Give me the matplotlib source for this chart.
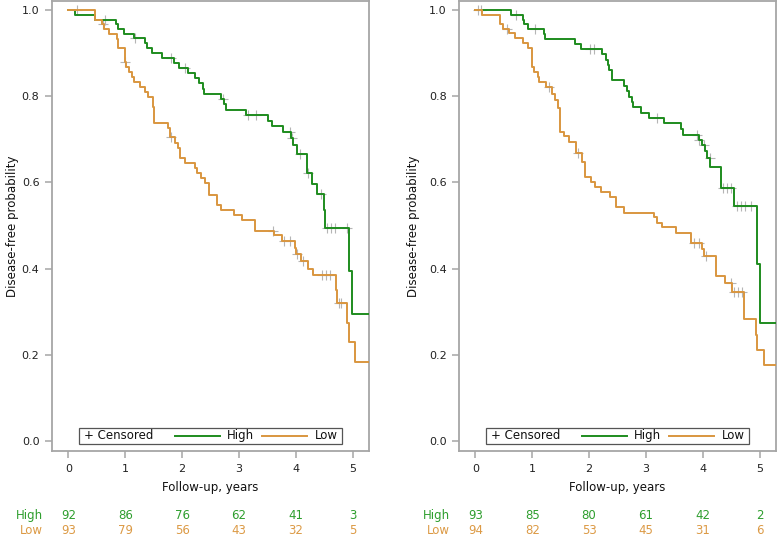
import numpy as np
import matplotlib
matplotlib.use("Agg")
import matplotlib.pyplot as plt
from matplotlib.patches import Rectangle
from matplotlib.lines import Line2D

# step-function data (time in years, survival after step)
left_high_t = [0.12, 0.46, 0.84, 0.88, 0.97, 1.16, 1.35, 1.38, 1.47, 1.64,
               1.85, 1.94, 2.11, 2.22, 2.30, 2.36, 2.39, 2.68, 2.74, 2.77,
               3.13, 3.52, 3.58, 3.77, 3.92, 3.95, 4.02, 4.20, 4.29, 4.38,
               4.50, 4.52, 4.94, 4.99]
left_high_s = [0.989, 0.978, 0.967, 0.956, 0.945, 0.934, 0.923, 0.912, 0.900, 0.889,
               0.877, 0.866, 0.855, 0.843, 0.831, 0.818, 0.806, 0.793, 0.781, 0.769,
               0.756, 0.743, 0.731, 0.718, 0.703, 0.687, 0.667, 0.621, 0.597, 0.574,
               0.535, 0.495, 0.395, 0.296]
left_low_t = [0.46, 0.59, 0.62, 0.71, 0.85, 0.88, 0.99, 1.01, 1.06, 1.11,
              1.16, 1.26, 1.34, 1.40, 1.48, 1.50, 1.75, 1.78, 1.88, 1.92,
              1.96, 2.05, 2.22, 2.27, 2.33, 2.40, 2.47, 2.61, 2.69, 2.91,
              3.05, 3.29, 3.61, 3.76, 3.98, 4.00, 4.10, 4.22, 4.30, 4.71,
              4.73, 4.91, 4.93, 5.05]
left_low_s = [0.978, 0.967, 0.956, 0.945, 0.933, 0.911, 0.880, 0.868, 0.857, 0.845,
              0.834, 0.822, 0.810, 0.799, 0.776, 0.739, 0.727, 0.705, 0.692, 0.679,
              0.657, 0.646, 0.634, 0.621, 0.610, 0.598, 0.572, 0.548, 0.536, 0.524,
              0.513, 0.488, 0.477, 0.464, 0.447, 0.434, 0.417, 0.400, 0.385, 0.351,
              0.321, 0.274, 0.229, 0.183]
right_high_t = [0.62, 0.84, 0.86, 0.93, 1.20, 1.22, 1.75, 1.86, 2.23, 2.30,
                2.33, 2.35, 2.40, 2.62, 2.67, 2.71, 2.76, 2.78, 2.92, 3.06,
                3.31, 3.61, 3.65, 3.93, 3.98, 4.04, 4.07, 4.13, 4.32, 4.55,
                4.95, 5.01]
right_high_s = [0.989, 0.978, 0.967, 0.956, 0.945, 0.933, 0.922, 0.910, 0.898, 0.884,
                0.872, 0.860, 0.838, 0.824, 0.812, 0.799, 0.787, 0.774, 0.762, 0.750,
                0.737, 0.723, 0.711, 0.698, 0.687, 0.673, 0.657, 0.637, 0.588, 0.546,
                0.412, 0.274]
right_low_t = [0.11, 0.44, 0.49, 0.59, 0.69, 0.84, 0.93, 0.99, 1.03, 1.10,
               1.12, 1.25, 1.34, 1.40, 1.45, 1.49, 1.56, 1.65, 1.77, 1.87,
               1.93, 2.04, 2.11, 2.21, 2.36, 2.47, 2.61, 3.14, 3.20, 3.29,
               3.53, 3.79, 3.98, 4.02, 4.23, 4.39, 4.51, 4.73, 4.93, 4.96,
               5.07]
right_low_s = [0.989, 0.967, 0.956, 0.946, 0.936, 0.924, 0.911, 0.868, 0.857, 0.845,
               0.834, 0.822, 0.806, 0.791, 0.772, 0.718, 0.707, 0.693, 0.669, 0.648,
               0.613, 0.602, 0.590, 0.578, 0.567, 0.544, 0.530, 0.519, 0.507, 0.496,
               0.483, 0.460, 0.445, 0.429, 0.384, 0.367, 0.346, 0.283, 0.246, 0.211,
               0.176]

# censoring times
left_high_c = [0.65, 1.17, 1.81, 2.05, 2.72, 3.16, 3.30, 3.90, 3.94, 4.07, 4.22,
               4.45, 4.55, 4.62, 4.70, 4.90]
left_low_c = [0.15, 0.60, 1.00, 1.80, 3.60, 3.80, 3.90, 4.02, 4.12, 4.47, 4.53,
              4.60, 4.77, 4.80]
right_high_c = [0.10, 0.72, 1.05, 2.02, 2.08, 3.20, 3.90, 3.94, 4.02, 4.12, 4.35,
                4.42, 4.50, 4.60, 4.67, 4.75, 4.85]
right_low_c = [0.05, 0.55, 1.30, 1.80, 3.85, 3.93, 4.05, 4.49, 4.55, 4.62, 4.70]

# number at risk
risk_times = [0, 1, 2, 3, 4, 5]
left_high_risk = [92, 86, 76, 62, 41, 3]
left_low_risk = [93, 79, 56, 43, 32, 5]
right_high_risk = [93, 85, 80, 61, 42, 2]
right_low_risk = [94, 82, 53, 45, 31, 6]

GREEN = "#1e8c1e"
ORANGE = "#d9963f"
GREEN_TXT = "#2e9e2e"
ORANGE_TXT = "#dc9a45"
FRAME = "#a6a6a6"
XMAX = 5.29

plt.rcParams["font.family"] = ["DejaVu Sans"]
plt.rcParams["font.size"] = 8

fig = plt.figure(figsize=(7.77, 5.36), dpi=100)


def surv_at(t_list, s_list, c):
    t = np.asarray(t_list)
    s = np.concatenate([[1.0], s_list])
    return s[np.searchsorted(t, c, side="right")]


def draw_curve(ax, t_list, s_list, c_list, color):
    t = np.concatenate([[0.0], t_list, [XMAX]])
    s = np.concatenate([[1.0], s_list, [s_list[-1]]])
    ax.step(t, s, where="post", color=color, lw=1.4, zorder=3)
    c = np.asarray(c_list)
    ax.plot(c, surv_at(t_list, s_list, c), ls="none", marker="+", ms=7,
            mew=0.8, color="#b5b5b5", zorder=2)


def panel(rect, hi, lo, hi_risk, lo_risk, ylab_x):
    ax = fig.add_axes(rect)
    draw_curve(ax, hi[0], hi[1], hi[2], GREEN)
    draw_curve(ax, lo[0], lo[1], lo[2], ORANGE)
    ax.set_xlim(-0.29, XMAX)
    ax.set_ylim(-0.023, 1.021)
    ax.set_xticks(risk_times)
    ax.set_yticks([0.0, 0.2, 0.4, 0.6, 0.8, 1.0])
    ax.set_yticklabels(["0.0", "0.2", "0.4", "0.6", "0.8", "1.0"])
    for sp in ax.spines.values():
        sp.set_color(FRAME)
        sp.set_linewidth(1.3)
    ax.tick_params(colors=FRAME, labelcolor="#222222", length=5, width=1.1,
                   pad=4, labelsize=8)
    ax.set_xlabel("Follow-up, years", fontsize=8.5, color="#111111")
    ax.xaxis.set_label_coords(0.5, -0.082)
    ax.xaxis.label.set_va("center")
    ax.set_ylabel("Disease-free probability", fontsize=8.5, color="#111111")
    ax.yaxis.set_label_coords(ylab_x, 0.5)
    ax.yaxis.label.set_va("center")

    # legend drawn by hand to keep the "+ Censored" layout
    ax.add_patch(Rectangle((0.085, 0.0156), 0.83, 0.036, transform=ax.transAxes,
                           fill=False, edgecolor="#555555", lw=0.9, zorder=5))
    ax.text(0.101, 0.0336, "+ Censored", transform=ax.transAxes, fontsize=8.5,
            va="center", ha="left", color="#111111", zorder=6)
    ax.add_line(Line2D([0.388, 0.530], [0.0336, 0.0336], transform=ax.transAxes,
                       color=GREEN, lw=1.4, zorder=6))
    ax.text(0.553, 0.0336, "High", transform=ax.transAxes, fontsize=8.5,
            va="center", ha="left", color="#111111", zorder=6)
    ax.add_line(Line2D([0.662, 0.804], [0.0336, 0.0336], transform=ax.transAxes,
                       color=ORANGE, lw=1.4, zorder=6))
    ax.text(0.828, 0.0336, "Low", transform=ax.transAxes, fontsize=8.5,
            va="center", ha="left", color="#111111", zorder=6)

    # number at risk table
    tr = ax.get_xaxis_transform()
    ax.text(-0.45, -0.144, "High", transform=tr, ha="right", va="center",
            fontsize=8.5, color=GREEN_TXT, clip_on=False)
    ax.text(-0.45, -0.176, "Low", transform=tr, ha="right", va="center",
            fontsize=8.5, color=ORANGE_TXT, clip_on=False)
    for x, h, l in zip(risk_times, hi_risk, lo_risk):
        ax.text(x, -0.144, str(h), transform=tr, ha="center", va="center",
                fontsize=8.5, color=GREEN_TXT, clip_on=False)
        ax.text(x, -0.176, str(l), transform=tr, ha="center", va="center",
                fontsize=8.5, color=ORANGE_TXT, clip_on=False)
    return ax


panel([52 / 777, 85 / 536, 317 / 777, 450 / 536],
      (left_high_t, left_high_s, left_high_c),
      (left_low_t, left_low_s, left_low_c),
      left_high_risk, left_low_risk, -0.125)
panel([459 / 777, 85 / 536, 317 / 777, 450 / 536],
      (right_high_t, right_high_s, right_high_c),
      (right_low_t, right_low_s, right_low_c),
      right_high_risk, right_low_risk, -0.145)

fig.savefig("out.png", dpi=100)
